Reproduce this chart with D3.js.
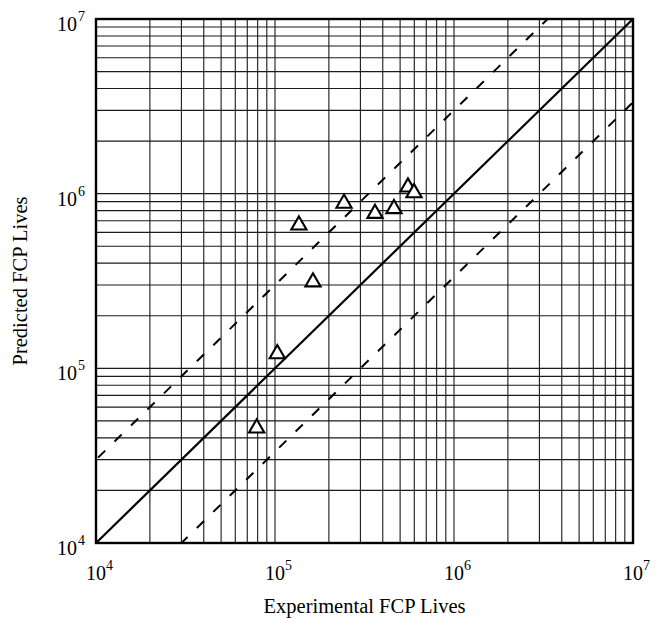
<!DOCTYPE html>
<html>
<head>
<meta charset="utf-8">
<script src="https://cdn.jsdelivr.net/npm/d3@7"></script>
<style>
  body { margin: 0; background: #fff; }
  text { font-family: "Liberation Serif", "Times New Roman", serif; fill: #000; }
</style>
</head>
<body>
<svg id="chart" width="658" height="626"></svg>
<script>
// Data
const experimental = [7.9e4, 1.03e5, 1.36e5, 1.63e5, 2.43e5, 3.62e5, 4.62e5, 5.53e5, 5.98e5];
const predicted = [4.55e4, 1.21e5, 6.6e5, 3.12e5, 8.8e5, 7.7e5, 8.2e5, 1.09e6, 1.01e6];
const decadeExponents = [4, 5, 6, 7];
const scatterBands = [1 / 3, 3]; // dashed factor-of-3 lines

const margin = { left: 96, top: 19, right: 25, bottom: 83 };
const width = 658, height = 626;
const svg = d3.select("#chart");

// Scales
const x = d3.scaleLog().domain([1e4, 1e7]).range([margin.left, width - margin.right]);
const y = d3.scaleLog().domain([1e4, 1e7]).range([height - margin.bottom, margin.top]);

// Grid values: 1..9 in each decade
const gridVals = [];
for (let e = 4; e < 7; e++) {
  for (let m = 1; m < 10; m++) gridVals.push(m * Math.pow(10, e));
}
gridVals.push(1e7);

const grid = svg.append("g").attr("class", "grid");
grid.selectAll(".vline")
  .data(gridVals)
  .join("line")
  .attr("x1", d => x(d)).attr("x2", d => x(d))
  .attr("y1", y(1e4)).attr("y2", y(1e7))
  .attr("stroke", "#1a1a1a")
  .attr("stroke-width", 1.1);
grid.selectAll(".hline")
  .data(gridVals)
  .join("line")
  .attr("y1", d => y(d)).attr("y2", d => y(d))
  .attr("x1", x(1e4)).attr("x2", x(1e7))
  .attr("stroke", "#1a1a1a")
  .attr("stroke-width", 1.1);

// Clip for diagonal lines
svg.append("clipPath").attr("id", "plot-clip")
  .append("rect")
  .attr("x", x(1e4)).attr("y", y(1e7))
  .attr("width", x(1e7) - x(1e4)).attr("height", y(1e4) - y(1e7));

const lines = svg.append("g").attr("clip-path", "url(#plot-clip)");
const line = d3.line().x(d => x(d[0])).y(d => y(d[1]));

// y = x line
lines.append("path")
  .attr("d", line([[1e4, 1e4], [1e7, 1e7]]))
  .attr("fill", "none")
  .attr("stroke", "#000")
  .attr("stroke-width", 2.2);

// Dashed factor bands
scatterBands.forEach(f => {
  lines.append("path")
    .attr("d", line([[1e3, 1e3 * f], [1e8, 1e8 * f]]))
    .attr("fill", "none")
    .attr("stroke", "#000")
    .attr("stroke-width", 2)
    .attr("stroke-dasharray", "10,13");
});

// Frame
svg.append("rect")
  .attr("x", x(1e4)).attr("y", y(1e7))
  .attr("width", x(1e7) - x(1e4)).attr("height", y(1e4) - y(1e7))
  .attr("fill", "none")
  .attr("stroke", "#000")
  .attr("stroke-width", 2.4);

// Data points: hollow triangles
const tri = d3.symbol().type(d3.symbolTriangle).size(100);
svg.append("g")
  .selectAll("path")
  .data(experimental.map((d, i) => [d, predicted[i]]))
  .join("path")
  .attr("d", tri)
  .attr("transform", d => `translate(${x(d[0])},${y(d[1])})`)
  .attr("fill", "#fff")
  .attr("stroke", "#000")
  .attr("stroke-width", 2.1);

// Tick labels
const xLab = svg.append("g");
decadeExponents.forEach(e => {
  const px = x(Math.pow(10, e));
  xLab.append("text")
    .attr("x", px).attr("y", y(1e4) + 37)
    .attr("text-anchor", "middle")
    .attr("font-size", 20)
    .text("10");
  xLab.append("text")
    .attr("x", px + 10).attr("y", y(1e4) + 27)
    .attr("font-size", 14)
    .text(e);
});

const yLab = svg.append("g");
decadeExponents.forEach(e => {
  const py = y(Math.pow(10, e));
  yLab.append("text")
    .attr("x", 77).attr("y", py + 12)
    .attr("text-anchor", "end")
    .attr("font-size", 20)
    .text("10");
  yLab.append("text")
    .attr("x", 78).attr("y", py + 2)
    .attr("font-size", 14)
    .text(e);
});

// Axis titles
svg.append("text")
  .attr("x", (x(1e4) + x(1e7)) / 2)
  .attr("y", 613)
  .attr("text-anchor", "middle")
  .attr("font-size", 20.5)
  .text("Experimental FCP Lives");

svg.append("text")
  .attr("transform", `translate(27,${(y(1e4) + y(1e7)) / 2}) rotate(-90)`)
  .attr("text-anchor", "middle")
  .attr("font-size", 20.5)
  .text("Predicted FCP Lives");
</script>
</body>
</html>
